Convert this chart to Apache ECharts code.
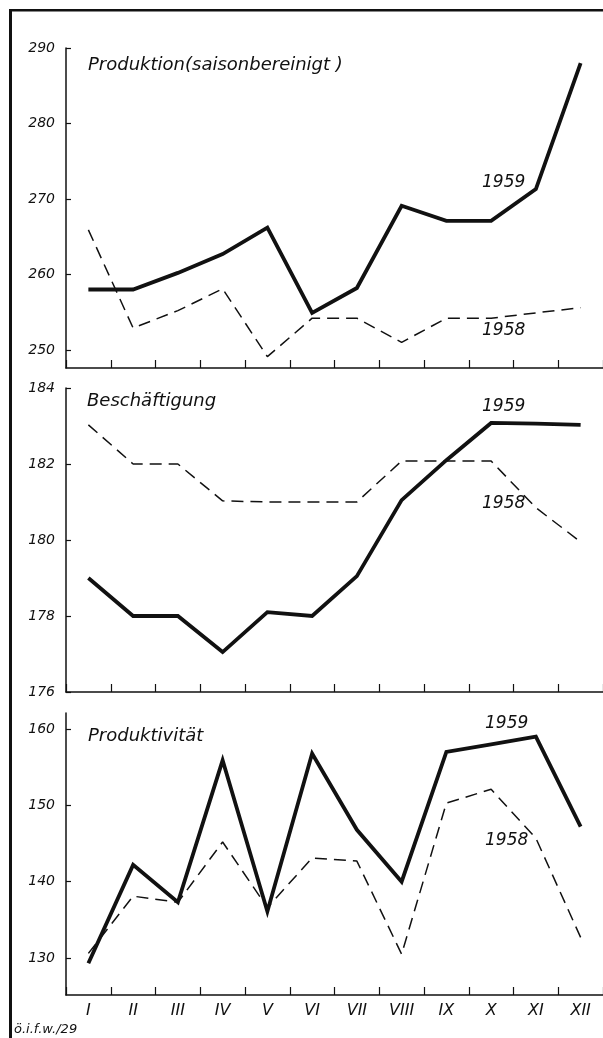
<!DOCTYPE html>
<html><head><meta charset="utf-8">
<script src="https://cdn.jsdelivr.net/npm/echarts@6/dist/echarts.min.js"></script>
<style>html,body{margin:0;padding:0;background:#fff}#c{width:603px;height:1038px}</style>
</head><body><div id="c"></div>
<script>
const months = ['I','II','III','IV','V','VI','VII','VIII','IX','X','XI','XII'];
const prod1959 = [258, 258, 260.2, 262.7, 266.2, 254.9, 258.2, 269.1, 267.1, 267.1, 271.3, 288];
const prod1958 = [265.9, 252.9, 255.2, 258.1, 249.1, 254.2, 254.2, 251, 254.2, 254.2, 254.9, 255.6];
const besch1959 = [179, 178, 178, 177.05, 178.1, 178, 179.05, 181.05, 182.1, 183.08, 183.06, 183.03];
const besch1958 = [183.03, 182, 182, 181.03, 181, 181, 181, 182.08, 182.08, 182.08, 180.85, 179.95];
const pkt1959 = [129.3, 142.2, 137.3, 155.9, 136.1, 156.8, 146.8, 140, 157, 158, 159, 147.2];
const pkt1958 = [130.6, 138.1, 137.3, 145.2, 136.6, 143.1, 142.7, 130.5, 150.3, 152.1, 145.7, 132.7];
const ticksProd = [250, 260, 270, 280, 290];
const ticksBesch = [176, 178, 180, 182, 184];
const ticksPkt = [130, 140, 150, 160];
const titles = ['Produktion(saisonbereinigt )', 'Beschäftigung', 'Produktivität'];
const yearLabels = ['1959', '1958'];

const FONT = 'DejaVu Sans';
const INK = '#111';
const grids = [
  {left: 66, width: 537, top: 48, height: 320},
  {left: 66, width: 537, top: 388, height: 304},
  {left: 66, width: 537, top: 713, height: 282}
];
const ranges = [[247.6, 290], [176, 184], [125.15, 162.1]];
const ticks = [ticksProd, ticksBesch, ticksPkt];

const xAxis = grids.map((g, i) => ({
  type: 'category', gridIndex: i, data: months, boundaryGap: true,
  axisLine: {lineStyle: {color: INK, width: 1.5}},
  axisTick: {show: true, inside: true, length: 8, lineStyle: {color: INK, width: 1.2}},
  axisLabel: {show: i === 2, color: INK, fontFamily: FONT, fontStyle: 'italic', fontSize: 16, margin: 8}
}));
const yAxis = grids.map((g, i) => ({
  type: 'value', gridIndex: i, min: ranges[i][0], max: ranges[i][1],
  axisLine: {show: true, lineStyle: {color: INK, width: 1.5}},
  axisTick: {show: true, inside: true, length: 5, customValues: ticks[i], lineStyle: {color: INK, width: 1.2}},
  axisLabel: {color: INK, fontFamily: FONT, fontStyle: 'italic', fontSize: 14, margin: 11, customValues: ticks[i]},
  splitLine: {show: false}
}));

function solid(i, data) {
  return {type: 'line', xAxisIndex: i, yAxisIndex: i, data, symbol: 'none',
    lineStyle: {color: INK, width: 3.8, join: 'miter'}, z: 3, animation: false};
}
function dashed(i, data) {
  return {type: 'line', xAxisIndex: i, yAxisIndex: i, data, symbol: 'none',
    lineStyle: {color: INK, width: 1.5, type: [12, 7]}, z: 2, animation: false};
}

const txt = (x, y, s, size) => ({type: 'text', left: x, top: y,
  style: {text: s, fill: INK, font: 'italic ' + size + 'px "' + FONT + '"'}});

const option = {
  animation: false,
  backgroundColor: '#fff',
  grid: grids,
  xAxis, yAxis,
  series: [
    solid(0, prod1959), dashed(0, prod1958),
    solid(1, besch1959), dashed(1, besch1958),
    solid(2, pkt1959), dashed(2, pkt1958)
  ],
  graphic: [
    {type: 'rect', shape: {x: 9, y: 9, width: 594, height: 2.5}, style: {fill: INK}},
    {type: 'rect', shape: {x: 9, y: 9, width: 3, height: 1029}, style: {fill: INK}},
    txt(88, 56, titles[0], 18),
    txt(87, 392, titles[1], 18),
    txt(88, 727, titles[2], 18),
    txt(482, 174, yearLabels[0], 17),
    txt(482, 322, yearLabels[1], 17),
    txt(482, 398, yearLabels[0], 17),
    txt(482, 495, yearLabels[1], 17),
    txt(485, 715, yearLabels[0], 17),
    txt(485, 832, yearLabels[1], 17),
    txt(14, 1023, 'ö.i.f.w./29', 13)
  ]
};
echarts.init(document.getElementById('c'), null, {renderer: 'canvas'}).setOption(option);
</script></body></html>
